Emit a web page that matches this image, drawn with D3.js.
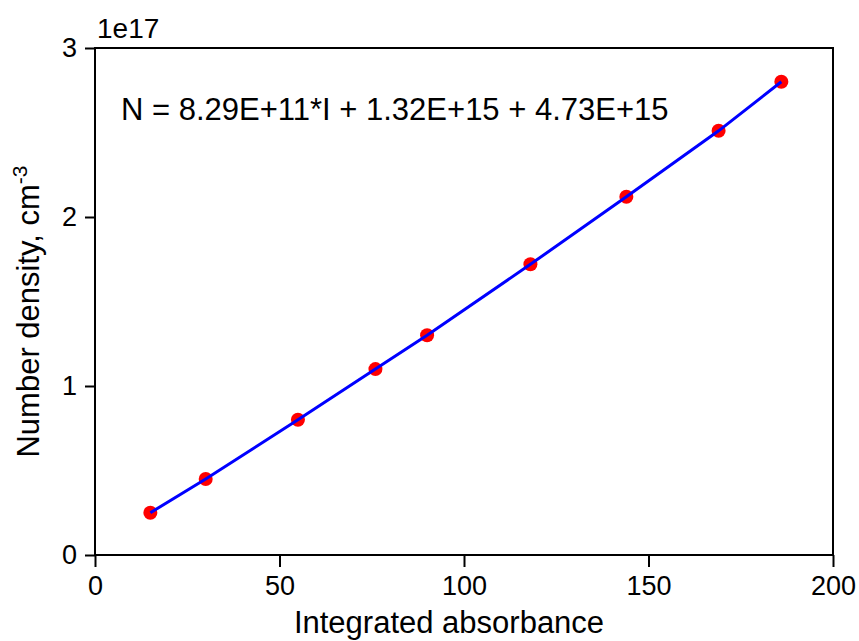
<!DOCTYPE html>
<html>
<head>
<meta charset="utf-8">
<script src="https://cdn.jsdelivr.net/npm/d3@7"></script>
<style>
  html, body { margin: 0; padding: 0; background: #fff; }
  svg { display: block; font-family: Arial, 'Liberation Sans', sans-serif; }
</style>
</head>
<body>
<div id="chart"></div>
<script>
// integrated absorbance vs number density (cm^-3)
const absorbance = [15, 30, 55, 76, 90, 118, 144, 169, 186];
const density = [2.5e16, 4.5e16, 8.0e16, 1.10e17, 1.30e17, 1.72e17, 2.12e17, 2.51e17, 2.80e17];
const xTicks = [0, 50, 100, 150, 200];
const yTicks = [0, 1e17, 2e17, 3e17];
const equation = 'N = 8.29E+11*I + 1.32E+15 + 4.73E+15';

const W = 859, H = 641;
const margin = { top: 48, right: 26, bottom: 86, left: 95 };
const iw = W - margin.left - margin.right;
const ih = H - margin.top - margin.bottom;

const svg = d3.select('#chart').append('svg')
  .attr('width', W)
  .attr('height', H);

const g = svg.append('g').attr('transform', `translate(${margin.left},${margin.top})`);

const x = d3.scaleLinear().domain([0, 200]).range([0, iw]);
const y = d3.scaleLinear().domain([0, 3e17]).range([ih, 0]);

// frame
g.append('rect')
  .attr('width', iw).attr('height', ih)
  .attr('fill', 'none').attr('stroke', '#000').attr('stroke-width', 2);

const xAxis = g.append('g')
  .attr('transform', `translate(0,${ih})`)
  .call(d3.axisBottom(x).tickValues(xTicks).tickSize(12).tickPadding(9).tickFormat(d3.format('d')));

const yAxis = g.append('g')
  .call(d3.axisLeft(y).tickValues(yTicks).tickSize(10).tickPadding(8).tickFormat(d => d / 1e17));

[xAxis, yAxis].forEach(a => {
  a.select('.domain').remove();
  a.selectAll('line').attr('stroke', '#000').attr('stroke-width', 2);
  a.selectAll('text').attr('font-size', '27px').attr('fill', '#000')
    .attr('font-family', "Arial, 'Liberation Sans', sans-serif");
});

// exponent label
svg.append('text')
  .attr('x', 97).attr('y', 38)
  .attr('font-size', '28px')
  .text('1e17');

// points
g.append('g')
  .selectAll('circle')
  .data(absorbance)
  .join('circle')
  .attr('cx', (d) => x(d))
  .attr('cy', (d, i) => y(density[i]))
  .attr('r', 7)
  .attr('fill', '#ff0000');

// fit line
const line = d3.line()
  .x((d) => x(d))
  .y((d, i) => y(density[i]));

g.append('path')
  .datum(absorbance)
  .attr('d', line)
  .attr('fill', 'none')
  .attr('stroke', '#0000ff')
  .attr('stroke-width', 3);

// equation
svg.append('text')
  .attr('x', 121).attr('y', 120)
  .attr('font-size', '31px')
  .text(equation);

// axis titles
svg.append('text')
  .attr('x', 449).attr('y', 633)
  .attr('text-anchor', 'middle')
  .attr('font-size', '31px')
  .text('Integrated absorbance');

const yt = svg.append('text')
  .attr('transform', `translate(39,${margin.top + ih / 2 + 10}) rotate(-90)`)
  .attr('text-anchor', 'middle')
  .attr('font-size', '31px');
yt.append('tspan').text('Number density, cm');
yt.append('tspan').attr('dy', -12).attr('font-size', '21px').text('-3');
</script>
</body>
</html>
